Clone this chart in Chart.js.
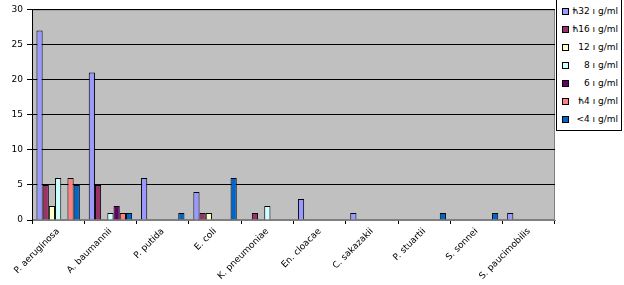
<!DOCTYPE html>
<html>
<head>
<meta charset="utf-8">
<script src="https://cdn.jsdelivr.net/npm/chart.js@4/dist/chart.umd.min.js"></script>
<style>
  body { margin: 0; background: #fff; }
  #wrap { position: relative; width: 624px; height: 285px; }
  #legend {
    position: absolute; left: 556px; top: -1px; width: 66px; height: 132px;
    border: 1px solid #000; background: #fff; box-sizing: border-box;
    font-family: "DejaVu Sans", sans-serif; font-size: 9px; color: #000;
  }
  .row { position: absolute; left: 0; width: 64px; height: 14px; line-height: 14px; }
  .box { position: absolute; left: 5px; top: 4px; width: 5px; height: 5px; border: 1px solid #000; }
  .lbl { position: absolute; right: 3px; top: 0; white-space: nowrap; }
</style>
</head>
<body>
<div id="wrap">
  <canvas id="chart" width="624" height="285"></canvas>
  <div id="legend"></div>
</div>
<script>
const categories = ['P. aeruginosa', 'A. baumannii', 'P. putida', 'E. coli', 'K. pneumoniae',
  'En. cloacae', 'C. sakazakii', 'P. stuartii', 'S. sonnei', 'S. paucimobilis'];

const seriesNames = ['ћ32 ı g/ml', 'ћ16 ı g/ml', '12 ı g/ml', '8 ı g/ml', '6 ı g/ml', 'ћ4 ı g/ml', '<4 ı g/ml'];
const seriesColors = ['#9999FF', '#993366', '#FFFFCC', '#CCFFFF', '#660066', '#FF8080', '#0066CC'];

const ge32 = [27, 21, 6, 4, 0, 3, 1, 0, 0, 1];
const ge16 = [5, 5, 0, 1, 1, 0, 0, 0, 0, 0];
const mic12 = [2, 0, 0, 1, 0, 0, 0, 0, 0, 0];
const mic8 = [6, 1, 0, 0, 2, 0, 0, 0, 0, 0];
const mic6 = [0, 2, 0, 0, 0, 0, 0, 0, 0, 0];
const ge4 = [6, 1, 0, 0, 0, 0, 0, 0, 0, 0];
const lt4 = [5, 1, 1, 6, 0, 0, 0, 1, 1, 0];

const seriesValues = [ge32, ge16, mic12, mic8, mic6, ge4, lt4];

const yTicks = [0, 5, 10, 15, 20, 25, 30];

// grey plot area
const plotBg = {
  id: 'plotBg',
  beforeDraw(chart) {
    const { ctx, chartArea: a } = chart;
    ctx.save();
    ctx.fillStyle = '#C0C0C0';
    ctx.fillRect(a.left, a.top, a.right - a.left, a.bottom - a.top);
    ctx.strokeStyle = '#808080';
    ctx.lineWidth = 1;
    ctx.strokeRect(a.left + 0.5, a.top + 0.5, a.right - a.left - 1, a.bottom - a.top - 1);
    ctx.restore();
  }
};

const datasets = seriesNames.map((name, i) => ({
  label: name,
  data: seriesValues[i],
  backgroundColor: seriesColors[i],
  borderColor: '#000',
  borderWidth: 1,
  borderSkipped: 'bottom',
  categoryPercentage: 0.83,
  barPercentage: 1.0
}));

new Chart(document.getElementById('chart'), {
  type: 'bar',
  data: { labels: categories, datasets },
  plugins: [plotBg],
  options: {
    responsive: false,
    animation: false,
    layout: { padding: { top: 5, right: 69, left: 0, bottom: 0 } },
    plugins: { legend: { display: false }, tooltip: { enabled: false } },
    scales: {
      x: {
        grid: { offset: true, drawOnChartArea: false, drawTicks: true, tickLength: 4, color: '#000' },
        border: { color: '#808080' },
        ticks: {
          minRotation: 45, maxRotation: 45, autoSkip: false, padding: 2,
          color: '#000', font: { family: 'DejaVu Sans', size: 9 }
        },
        afterFit: s => { s.height = 65; }
      },
      y: {
        min: 0, max: 30,
        afterBuildTicks: s => { s.ticks = yTicks.map(v => ({ value: v })); },
        grid: { color: '#000', tickLength: 5, drawTicks: true },
        border: { color: '#000' },
        ticks: { color: '#000', padding: 4, font: { family: 'DejaVu Sans', size: 9 } },
        afterFit: s => { s.width = 32; }
      }
    }
  }
});

const legend = document.getElementById('legend');
seriesNames.forEach((name, i) => {
  const row = document.createElement('div');
  row.className = 'row';
  row.style.top = (4 + i * 18) + 'px';
  const box = document.createElement('span');
  box.className = 'box';
  box.style.background = seriesColors[i];
  const lbl = document.createElement('span');
  lbl.className = 'lbl';
  lbl.textContent = name;
  row.appendChild(box);
  row.appendChild(lbl);
  legend.appendChild(row);
});
</script>
</body>
</html>
